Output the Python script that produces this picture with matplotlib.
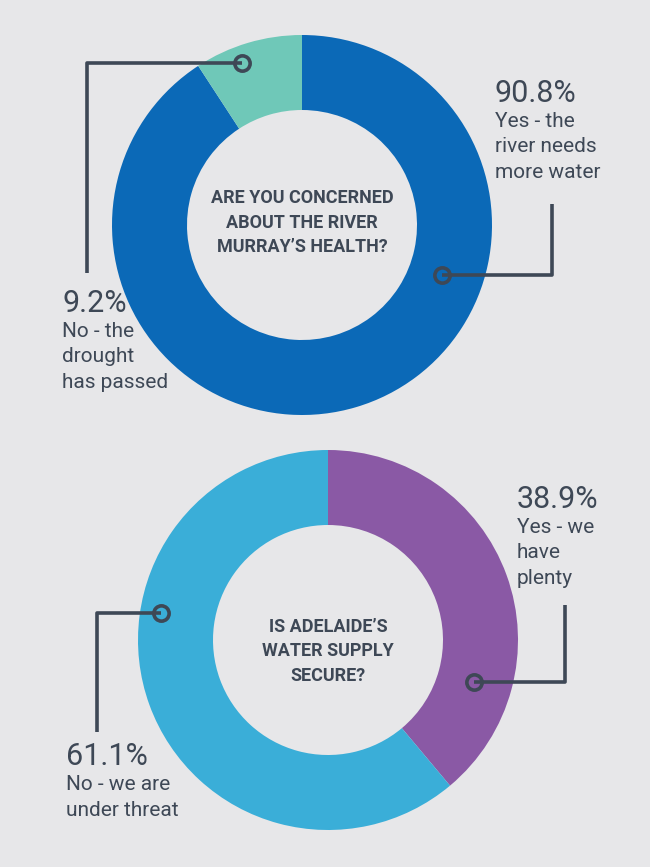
import matplotlib.pyplot as plt

# survey results
q1_title = "ARE YOU CONCERNED\nABOUT THE RIVER\nMURRAY\u2019S HEALTH?"
q1_values = [90.8, 9.2]
q1_labels = ["Yes - the\nriver needs\nmore water", "No - the\ndrought\nhas passed"]
q1_colors = ["#0b69b7", "#6fc8b8"]

q2_title = "IS ADELAIDE\u2019S\nWATER SUPPLY\nSECURE?"
q2_values = [38.9, 61.1]
q2_labels = ["Yes - we\nhave\nplenty", "No - we are\nunder threat"]
q2_colors = ["#8a59a5", "#3aaed8"]

W, H = 650, 867
bg = "#e7e7e9"
ink = "#3e4856"

fig = plt.figure(figsize=(W / 100, H / 100), dpi=100, facecolor=bg)
ax = fig.add_axes([0, 0, 1, 1])
ax.set_facecolor(bg)


def Y(y):
    return H - y


def donut(cx, cy, values, colors):
    ax.pie(values, colors=colors, startangle=90, counterclock=False,
           center=(cx, Y(cy)), radius=190,
           wedgeprops=dict(width=75, edgecolor="none"))


def callout(points, circ):
    xs = [p[0] for p in points]
    ys = [Y(p[1]) for p in points]
    ax.plot(xs, ys, color=ink, lw=2.6, solid_capstyle="butt", zorder=3)
    ax.plot(circ[0], Y(circ[1]), "o", ms=11, mfc="none", mec=ink, mew=2.6, zorder=4)


def label(x, y, pct, text):
    ax.text(x, Y(y), f"{pct}%", fontsize=22, color=ink, family="Roboto",
            va="baseline", ha="left")
    for i, line in enumerate(text.split("\n")):
        ax.text(x, Y(y + 25 + 25.5 * i), line, fontsize=15, color=ink,
                family="Roboto", va="baseline", ha="left")


def title(cx, y, text):
    for i, line in enumerate(text.split("\n")):
        ax.text(cx, Y(y + 24.5 * i), line, fontsize=13, color=ink,
                family="Roboto", fontweight="bold", va="baseline", ha="center")


# top chart
donut(302, 225, q1_values, q1_colors)
title(302, 203, q1_title)
callout([(242, 63), (87, 63), (87, 273)], (242, 63))
callout([(552, 204), (552, 275), (442, 275)], (442, 275))
label(495, 102, q1_values[0], q1_labels[0])
label(62, 312, q1_values[1], q1_labels[1])

# bottom chart
donut(328, 640, q2_values, q2_colors)
title(328, 632, q2_title)
callout([(565, 605), (565, 682), (474, 682)], (474, 682))
callout([(161, 613), (97, 613), (97, 732)], (161, 613))
label(517, 508, q2_values[0], q2_labels[0])
label(66, 765, q2_values[1], q2_labels[1])

ax.set_xlim(0, W)
ax.set_ylim(0, H)
ax.set_aspect("equal")
ax.axis("off")

fig.savefig("out.png", dpi=100, facecolor=bg)
